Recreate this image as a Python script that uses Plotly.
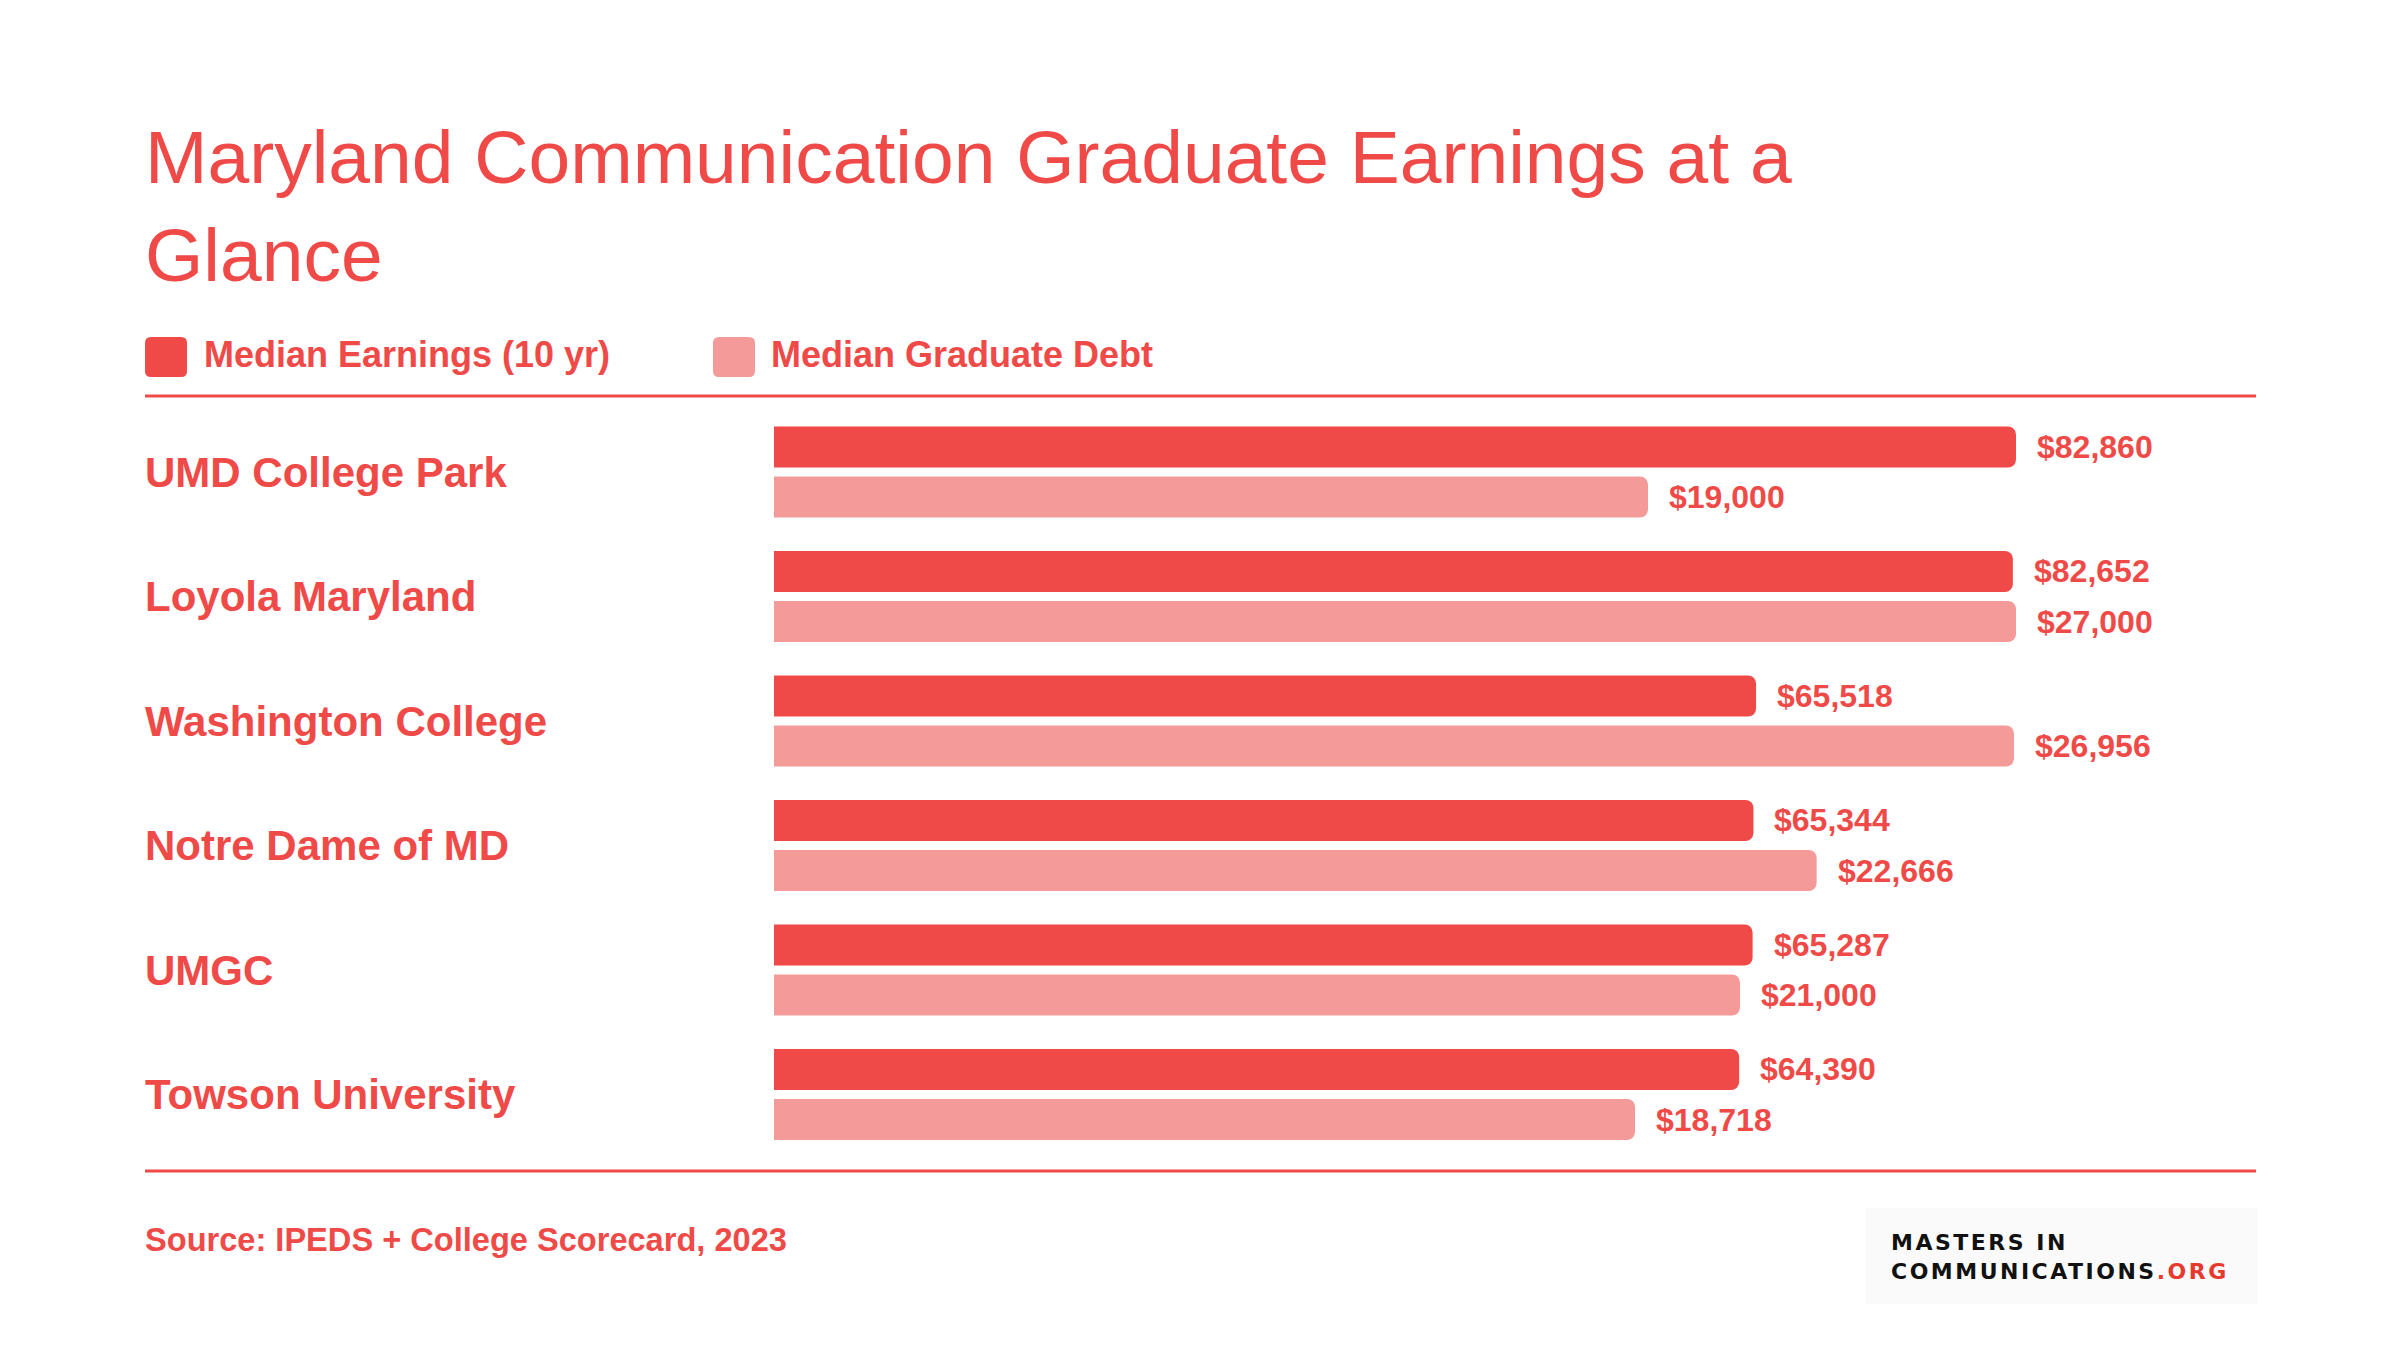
import plotly.graph_objects as go

# ---------------- data ----------------
categories = ["UMD College Park", "Loyola Maryland", "Washington College",
              "Notre Dame of MD", "UMGC", "Towson University"]
earnings = [82860, 82652, 65518, 65344, 65287, 64390]
debt = [19000, 27000, 26956, 22666, 21000, 18718]
series_names = ["Median Earnings (10 yr)", "Median Graduate Debt"]
title_text = "Maryland Communication Graduate Earnings at a<br>Glance"
source_text = "Source: IPEDS + College Scorecard, 2023"
logo_line1 = "MASTERS IN"
logo_line2 = "COMMUNICATIONS"
logo_suffix = ".ORG"

# ---------------- style ----------------
W, H = 2400, 1350
RED = "#EF4A47"
PINK = "#F49B99"
FONT = "Liberation Sans, Arial, Helvetica, sans-serif"


def px(x):
    return x / W


def py(y):
    return 1 - y / H


def rounded_rect(x0, y0, x1, y1, r):
    # pixel coords -> paper path with rounded corners
    pts = [
        f"M {px(x0 + r)},{py(y0)}",
        f"L {px(x1 - r)},{py(y0)}",
        f"Q {px(x1)},{py(y0)} {px(x1)},{py(y0 + r)}",
        f"L {px(x1)},{py(y1 - r)}",
        f"Q {px(x1)},{py(y1)} {px(x1 - r)},{py(y1)}",
        f"L {px(x0 + r)},{py(y1)}",
        f"Q {px(x0)},{py(y1)} {px(x0)},{py(y1 - r)}",
        f"L {px(x0)},{py(y0 + r)}",
        f"Q {px(x0)},{py(y0)} {px(x0 + r)},{py(y0)}",
        "Z",
    ]
    return " ".join(pts)


rows = list(range(len(categories)))
bar_w = 0.33
gap = 0.072
e_off = -gap / 2 - bar_w
d_off = gap / 2

x_left, x_right = 774, 2250
bar_end_px = 2016
stretch = (x_right - x_left) / (bar_end_px - x_left)

fig = go.Figure()
fig.add_trace(go.Bar(
    y=rows, x=earnings, orientation="h", xaxis="x", yaxis="y",
    name=series_names[0], width=bar_w, offset=e_off,
    marker=dict(color=RED, cornerradius=8, line=dict(width=0)),
    hoverinfo="skip",
))
fig.add_trace(go.Bar(
    y=rows, x=debt, orientation="h", xaxis="x2", yaxis="y",
    name=series_names[1], width=bar_w, offset=d_off,
    marker=dict(color=PINK, cornerradius=8, line=dict(width=0)),
    hoverinfo="skip",
))

annotations = []
# title
annotations.append(dict(
    text=title_text, xref="paper", yref="paper", x=px(143), y=py(113),
    xanchor="left", yanchor="top", align="left", showarrow=False,
    font=dict(family=FONT, size=75, color=RED),
))
# legend
leg_items = [(145, 202, RED, series_names[0]), (713, 769, PINK, series_names[1])]
shapes = []
for sx, tx, col, name in leg_items:
    shapes.append(dict(type="path", xref="paper", yref="paper",
                       path=rounded_rect(sx, 337, sx + 42, 377, 6),
                       fillcolor=col, line=dict(width=0)))
    annotations.append(dict(
        text=name, xref="paper", yref="paper", x=px(tx), y=py(354),
        xanchor="left", yanchor="middle", showarrow=False,
        font=dict(family=FONT, size=36, color=RED, weight="bold"),
    ))
# separator lines
for yy in (396, 1171):
    shapes.append(dict(type="line", xref="paper", yref="paper",
                       x0=px(145), x1=px(2256), y0=py(yy), y1=py(yy),
                       line=dict(color=RED, width=3)))
# category labels
for i, c in enumerate(categories):
    annotations.append(dict(
        text=c, xref="paper", yref="y", x=px(143), y=i,
        xanchor="left", yanchor="middle", showarrow=False,
        font=dict(family=FONT, size=42, color=RED, weight="bold"),
    ))
# value labels
for i, v in enumerate(earnings):
    annotations.append(dict(
        text=f"${v:,}", xref="x", yref="y", x=v, y=i + e_off + bar_w / 2,
        xanchor="left", yanchor="middle", xshift=19, showarrow=False,
        font=dict(family=FONT, size=32, color=RED, weight="bold"),
    ))
for i, v in enumerate(debt):
    annotations.append(dict(
        text=f"${v:,}", xref="x2", yref="y", x=v, y=i + d_off + bar_w / 2,
        xanchor="left", yanchor="middle", xshift=19, showarrow=False,
        font=dict(family=FONT, size=32, color=RED, weight="bold"),
    ))
# source
annotations.append(dict(
    text=source_text, xref="paper", yref="paper", x=px(143), y=py(1239),
    xanchor="left", yanchor="middle", showarrow=False,
    font=dict(family=FONT, size=32.6, color=RED, weight="bold"),
))
# logo
shapes.append(dict(type="rect", xref="paper", yref="paper",
                   x0=px(1866), x1=px(2258), y0=py(1208), y1=py(1304),
                   fillcolor="#FAFAFA", line=dict(width=0), layer="below"))
logo_font = dict(family="DejaVu Sans, sans-serif", size=22, color="#111111", weight="bold")
ls = "letter-spacing:2.5px"
annotations.append(dict(
    text=(f"<span style='{ls}'>{logo_line1}</span><br>"
          f"<span style='{ls}'>{logo_line2}</span>"
          f"<span style='color:#E8392F;{ls}'>{logo_suffix}</span>"),
    xref="paper", yref="paper", x=px(1889), y=py(1257),
    xanchor="left", yanchor="middle", align="left", showarrow=False, font=logo_font,
))

fig.update_layout(
    width=W, height=H,
    margin=dict(l=0, r=0, t=0, b=0),
    paper_bgcolor="white", plot_bgcolor="white",
    showlegend=False,
    xaxis=dict(domain=[px(x_left), px(x_right)], range=[0, max(earnings) * stretch],
               visible=False, fixedrange=True),
    xaxis2=dict(domain=[px(x_left), px(x_right)], range=[0, max(debt) * stretch],
                overlaying="x", anchor="y", visible=False, fixedrange=True),
    yaxis=dict(domain=[py(1156.75), py(409.75)], range=[len(categories) - 0.5, -0.5],
               visible=False, fixedrange=True),
    shapes=shapes,
    annotations=annotations,
)

fig.write_html("out.html", post_script="document.body.style.margin='0';")
